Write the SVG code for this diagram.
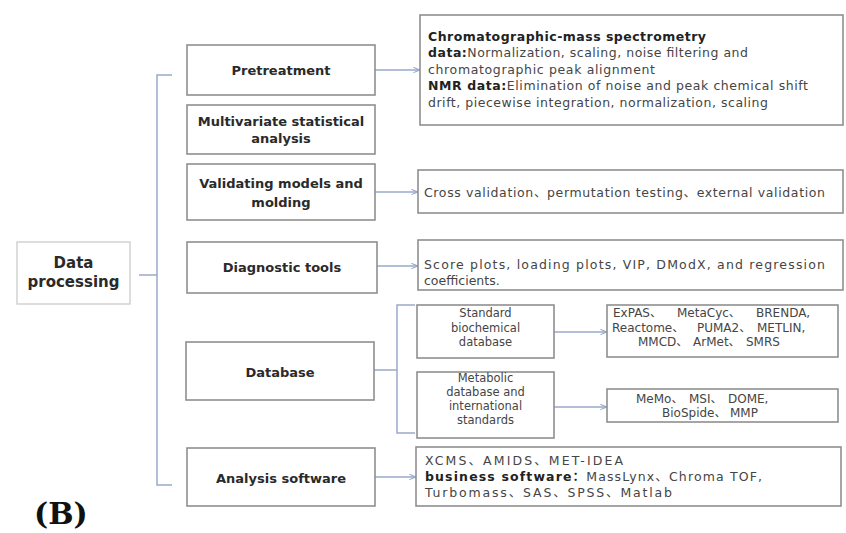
<svg xmlns="http://www.w3.org/2000/svg" width="846" height="533" viewBox="0 0 846 533">
<defs>
<marker id="arr" viewBox="0 0 8 8" refX="7.5" refY="4" markerWidth="7" markerHeight="7" markerUnits="userSpaceOnUse" orient="auto">
<path d="M0,1 L7.5,4 L0,7" fill="none" stroke="#8ea0c4" stroke-width="1.2"/>
</marker>
<style>
.box{fill:#fff;stroke:#8f8f8f;stroke-width:1.6}
.lbox{fill:#fff;stroke:#cfcfcf;stroke-width:1.4}
.c{fill:none;stroke:#9aaacb;stroke-width:1.5}
.n{font-family:"DejaVu Sans","Liberation Sans",sans-serif;font-weight:bold;font-size:13px;fill:#2a2a2a;text-anchor:middle}
.t{font-family:"DejaVu Sans","Liberation Sans","Noto Sans CJK SC",sans-serif;font-size:12.5px;fill:#454545}
.s{font-family:"DejaVu Sans","Liberation Sans",sans-serif;font-size:11.5px;fill:#454545;text-anchor:middle}
.l{font-family:"DejaVu Sans","Liberation Sans","Noto Sans CJK SC",sans-serif;font-size:12px;fill:#454545}
.b{font-weight:bold;fill:#222}
</style>
</defs>
<rect width="846" height="533" fill="#fff"/>

<g id="connectors">
<path class="c" d="M139,275 H157"/>
<path class="c" d="M172,75 H157 V485 H172"/>
<path class="c" d="M375,70 H420" marker-end="url(#arr)"/>
<path class="c" d="M375,192 H418" marker-end="url(#arr)"/>
<path class="c" d="M377,266 H418" marker-end="url(#arr)"/>
<path class="c" d="M374,370 H397"/>
<path class="c" d="M415,305 H397 V433 H415"/>
<path class="c" d="M554,332 H607" marker-end="url(#arr)"/>
<path class="c" d="M554,407 H607" marker-end="url(#arr)"/>
<path class="c" d="M375,477 H416" marker-end="url(#arr)"/>
</g>

<g id="data-processing">
<rect class="lbox" x="17" y="242" width="113" height="62"/>
<text class="n" style="font-size:15px" x="73.5" y="268">Data</text>
<text class="n" style="font-size:15px" x="73.5" y="287">processing</text>
</g>

<g id="pretreatment">
<rect class="box" x="187" y="45" width="188" height="50"/>
<text class="n" x="281" y="74.5">Pretreatment</text>
</g>

<g id="multivariate">
<rect class="box" x="187" y="105" width="188" height="49"/>
<text class="n" x="281" y="125.5">Multivariate statistical</text>
<text class="n" x="281" y="142.5">analysis</text>
</g>

<g id="validating">
<rect class="box" x="187" y="164" width="188" height="56"/>
<text class="n" x="281" y="187.5">Validating models and</text>
<text class="n" x="281" y="206.5">molding</text>
</g>

<g id="diagnostic">
<rect class="box" x="187" y="242" width="190" height="51"/>
<text class="n" x="282" y="271.5">Diagnostic tools</text>
</g>

<g id="database">
<rect class="box" x="186" y="342" width="188" height="58"/>
<text class="n" x="280" y="376.5">Database</text>
</g>

<g id="analysis-software">
<rect class="box" x="187" y="448" width="188" height="58"/>
<text class="n" x="281" y="482.5">Analysis software</text>
</g>

<g id="pretreatment-detail">
<rect class="box" x="420" y="15" width="423" height="110"/>
<text class="t" x="428" y="41" textLength="278"><tspan class="b">Chromatographic-mass spectrometry</tspan></text>
<text class="t" x="428" y="57" textLength="320"><tspan class="b">data:</tspan>Normalization, scaling, noise filtering and</text>
<text class="t" x="428" y="74" textLength="227">chromatographic peak alignment</text>
<text class="t" x="428" y="90" textLength="380"><tspan class="b">NMR data:</tspan>Elimination of noise and peak chemical shift</text>
<text class="t" x="428" y="107" textLength="340">drift, piecewise integration, normalization, scaling</text>
</g>

<g id="validating-detail">
<rect class="box" x="418" y="170" width="425" height="43"/>
<text class="t" x="424" y="197" textLength="401">Cross validation、permutation testing、external validation</text>
</g>

<g id="diagnostic-detail">
<rect class="box" x="418" y="240" width="425" height="50"/>
<text class="t" x="424" y="269" textLength="401">Score plots, loading plots, VIP, DModX, and regression</text>
<text class="t" x="424" y="285">coefficients.</text>
</g>

<g id="standard-db">
<rect class="box" x="417" y="305" width="137" height="53"/>
<text class="s" x="485.5" y="317">Standard</text>
<text class="s" x="485.5" y="332">biochemical</text>
<text class="s" x="485.5" y="346">database</text>
</g>

<g id="metabolic-db">
<rect class="box" x="417" y="372" width="137" height="66"/>
<text class="s" x="485.5" y="382">Metabolic</text>
<text class="s" x="485.5" y="396">database and</text>
<text class="s" x="485.5" y="410">international</text>
<text class="s" x="485.5" y="424">standards</text>
</g>

<g id="standard-db-list">
<rect class="box" x="607" y="305" width="231" height="52"/>
<text class="l" y="317"><tspan x="613">ExPAS、</tspan><tspan x="677">MetaCyc、</tspan><tspan x="756">BRENDA,</tspan></text>
<text class="l" y="331.5"><tspan x="612">Reactome、</tspan><tspan x="697">PUMA2、</tspan><tspan x="757">METLIN,</tspan></text>
<text class="l" y="346"><tspan x="638">MMCD、</tspan><tspan x="693">ArMet、</tspan><tspan x="746">SMRS</tspan></text>
</g>

<g id="metabolic-db-list">
<rect class="box" x="607" y="389" width="231" height="33"/>
<text class="l" y="402.5"><tspan x="636">MeMo、</tspan><tspan x="689">MSI、</tspan><tspan x="728">DOME,</tspan></text>
<text class="l" y="416.5"><tspan x="662">BioSpide、</tspan><tspan x="730">MMP</tspan></text>
</g>

<g id="analysis-detail">
<rect class="box" x="416" y="447" width="425" height="59"/>
<text class="t" x="425" y="465" textLength="198">XCMS、AMIDS、MET-IDEA</text>
<text class="t" x="425" y="481" textLength="337"><tspan class="b">business software：</tspan>MassLynx、Chroma TOF,</text>
<text class="t" x="425" y="497" textLength="247">Turbomass、SAS、SPSS、Matlab</text>
</g>

<text x="34" y="524" font-family="DejaVu Serif, Liberation Serif, serif" font-weight="bold" font-size="30" fill="#111">(B)</text>
</svg>
